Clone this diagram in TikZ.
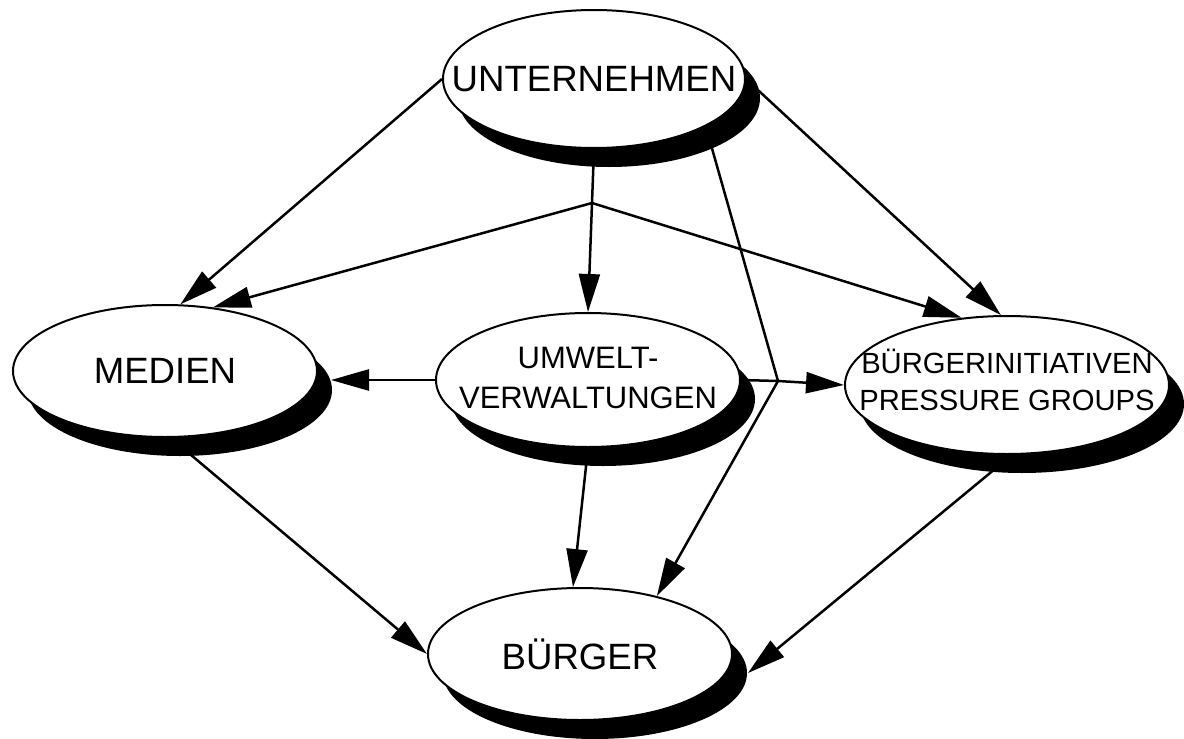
\documentclass[tikz,border=0pt]{standalone}
\usepackage{fontspec}
\setmainfont{Liberation Sans}
\usepackage{tikz}
\usetikzlibrary{shapes.geometric,shadows,arrows.meta}

\newcommand{\zeilen}[1]{\makebox[0pt]{\begin{tabular}{@{}c@{}}#1\end{tabular}}}

\begin{document}
\begin{tikzpicture}[x=0.5pt, y=-0.5pt,
    knoten/.style={ellipse, draw, line width=1pt, fill=white, inner sep=0pt,
        drop shadow={shadow xshift=7.5pt, shadow yshift=-9.5pt, fill=black, opacity=1}},
    gross/.style={font=\fontsize{18.3}{22}\selectfont},
    pfeil/.style={line width=1.25pt, -{Triangle[length=19pt, width=10.5pt]}},
    linie/.style={line width=1.25pt}]
    \useasboundingbox (0,0) rectangle (1184,739);

    \node[knoten, gross, minimum width=151pt, minimum height=69pt] (unternehmen) at (594, 79) {\makebox[0pt]{UNTERNEHMEN}};
    \node[knoten, gross, minimum width=152pt, minimum height=66pt] (medien) at (165, 371) {\makebox[0pt]{MEDIEN}};
    \node[knoten, minimum width=152pt, minimum height=67pt, font=\fontsize{15.5}{20}\selectfont] (umwelt) at (588, 380) {\zeilen{UMWELT-\\VERWALTUNGEN}};
    \node[knoten, minimum width=162pt, minimum height=69pt, font=\fontsize{14.6}{18.5}\selectfont] (initiativen) at (1007, 385) {\zeilen{BÜRGERINITIATIVEN\\PRESSURE GROUPS}};
    \node[knoten, gross, minimum width=152pt, minimum height=66pt] (buerger) at (580, 654) {\makebox[0pt]{BÜRGER}};

    \coordinate (verteiler) at (592, 203);
    \coordinate (kreuzung) at (778, 381);

    \draw[linie] (unternehmen.south) -- (verteiler);
    \draw[linie] (unternehmen.-23) -- (kreuzung);
    \draw[linie] (umwelt.east) -- (kreuzung);

    \path[pfeil]
        (unternehmen.west) edge (medien.77)
        (unternehmen.east) edge (initiativen.95)
        (verteiler) edge (medien.53)
        (verteiler) edge (umwelt.north)
        (verteiler) edge (initiativen.124)
        (kreuzung) edge (initiativen.west)
        (kreuzung) edge (buerger.37)
        (umwelt.west) edge ([xshift=6.5pt, yshift=-4.5pt]medien.east)
        (umwelt.south) edge (buerger.96)
        (medien.-85) edge (buerger.west)
        (initiativen.-86) edge ([xshift=7.5pt, yshift=-9.5pt]buerger.east);
\end{tikzpicture}
\end{document}
